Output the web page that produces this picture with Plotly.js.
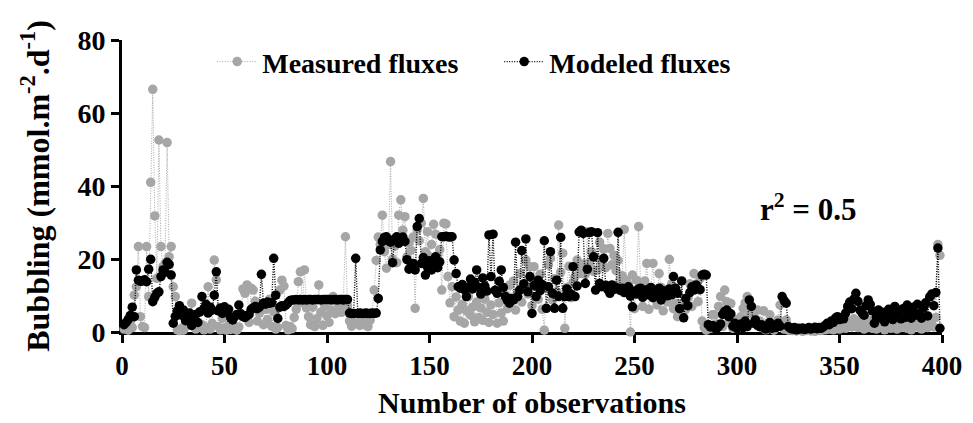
<!DOCTYPE html>
<html>
<head>
<meta charset="utf-8">
<script src="https://cdn.plot.ly/plotly-3.0.1.min.js"></script>
<style>
html,body{margin:0;padding:0;background:#fff;}
#chart{width:973px;height:423px;}
</style>
</head>
<body>
<div id="chart"></div>
<script>
// Observation numbers start at 1, one per observation
const firstObservation = 1;

const measuredFluxes = [
0.8, 1.5, 0.5, 2.8, 1.2, 10.1, 12.4, 23.4, 4.2, 1.5,
1.2, 23.4, 9.7, 41.0, 66.5, 31.8, 14.7, 52.6, 23.4, 17.9,
18.8, 51.9, 20.6, 23.4, 12.4, 9.7, 0.6, 0.4, 1.0, 0.5,
2.5, 1.8, 4.0, 7.9, 3.2, 0.8, 1.5, 5.6, 2.0, 0.6,
1.2, 12.4, 0.8, 2.4, 19.7, 14.3, 1.5, 0.6, 3.8, 1.0,
0.5, 1.8, 0.7, 2.2, 1.0, 0.5, 1.4, 4.6, 11.8, 10.6,
12.9, 2.6, 12.0, 11.5, 8.4, 3.0, 5.2, 7.0, 2.0, 6.2,
3.4, 9.0, 1.6, 5.5, 0.8, 1.2, 11.5, 14.2, 12.6, 1.8,
0.6, 1.5, 0.9, 4.0, 6.2, 13.8, 16.5, 8.0, 17.0, 6.6,
4.2, 2.0, 6.8, 1.5, 3.6, 12.9, 5.4, 1.8, 7.0, 4.4,
2.6, 6.0, 9.7, 5.0, 8.2, 6.6, 5.4, 9.0, 26.1, 7.2,
3.0, 1.6, 4.8, 2.4, 5.0, 1.8, 3.6, 2.0, 4.4, 1.5,
3.2, 5.0, 11.5, 19.6, 26.0, 24.0, 32.0, 22.0, 17.5, 24.0,
46.7, 20.0, 23.5, 19.0, 32.0, 36.2, 27.9, 31.6, 20.6, 24.5,
22.4, 26.0, 6.5, 28.0, 25.0, 29.8, 36.6, 22.0, 27.5, 20.6,
24.0, 29.5, 26.8, 21.0, 22.6, 11.5, 29.8, 29.6, 15.2, 8.0,
12.4, 4.2, 9.6, 6.0, 3.0, 7.6, 2.4, 5.8, 9.7, 4.6,
6.8, 2.8, 8.2, 4.0, 6.6, 3.2, 9.0, 5.4, 2.6, 7.4,
4.8, 11.5, 2.4, 8.0, 5.2, 3.0, 10.2, 6.4, 12.8, 8.6,
14.0, 6.0, 10.8, 16.0, 8.2, 12.6, 19.7, 10.4, 17.9, 7.2,
17.9, 13.4, 9.0, 15.8, 6.2, 0.5, 12.0, 18.4, 20.2, 8.8,
14.6, 11.0, 29.3, 16.4, 21.6, 1.0, 12.2, 18.0, 9.4, 13.6,
15.2, 19.7, 17.2, 16.0, 18.6, 15.8, 27.5, 19.0, 22.0, 16.6,
20.4, 17.0, 24.6, 19.2, 22.8, 17.6, 27.0, 22.9, 18.4, 21.0,
16.8, 19.6, 14.2, 15.4, 28.1, 14.2, 13.0, 0.0, 15.6, 6.4,
14.2, 28.9, 12.6, 7.0, 14.0, 18.8, 6.2, 11.4, 18.8, 9.6,
7.4, 16.0, 12.2, 5.8, 10.6, 8.2, 19.9, 13.0, 6.4, 7.9,
4.2, 6.8, 5.6, 8.0, 6.2, 9.4, 13.2, 7.0, 16.0, 12.4,
8.3, 14.6, 3.0, 1.2, 0.5, 2.0, 1.0, 4.7, 4.7, 2.2,
7.0, 9.7, 1.5, 11.5, 8.3, 2.6, 7.8, 1.0, 3.4, 2.0,
1.4, 4.2, 6.5, 8.0, 9.7, 5.2, 7.0, 4.6, 2.4, 6.0,
3.0, 1.2, 5.8, 0.6, 2.4, 4.7, 1.0, 0.5, 2.0, 3.3,
7.4, 1.5, 0.8, 3.3, 0.5, 1.2, 0.4, 0.8, 0.3, 0.6,
0.5, 0.2, 0.8, 0.4, 1.0, 0.3, 0.6, 0.2, 0.5, 0.8,
0.4, 1.0, 0.6, 1.2, 0.8, 1.5, 0.6, 2.0, 1.2, 0.8,
1.6, 2.4, 1.0, 3.0, 2.2, 1.4, 3.6, 2.0, 1.2, 2.8,
1.8, 0.8, 2.4, 1.2, 3.2, 1.0, 2.0, 0.8, 3.0, 1.6,
2.2, 0.6, 1.4, 2.8, 1.0, 3.4, 1.6, 0.8, 2.6, 1.2,
2.0, 3.0, 1.0, 2.4, 0.6, 1.8, 3.2, 1.4, 2.2, 0.8,
1.6, 2.8, 1.2, 3.6, 2.0, 1.4, 4.0, 24.0, 21.0
];

const modeledFluxes = [
2.0, 2.6, 3.4, 4.5, 6.8, 4.2, 17.0, 14.2, 13.9, 14.0,
14.3, 13.8, 17.2, 19.9, 8.3, 9.5, 10.6, 11.0, 15.2, 17.0,
16.4, 19.1, 18.5, 15.6, 2.4, 4.3, 5.8, 7.2, 4.6, 6.0,
3.1, 4.0, 5.2, 1.8, 3.6, 4.8, 2.6, 5.5, 9.7, 6.4,
7.6, 5.2, 6.8, 6.0, 10.1, 16.5, 5.8, 6.6, 5.1, 6.9,
5.4, 6.2, 3.9, 3.3, 4.2, 4.8, 7.4, 5.0, 4.2, 4.0,
4.5, 4.8, 6.2, 6.6, 7.0, 6.4, 6.8, 15.8, 7.9, 7.6,
8.2, 7.9, 8.0, 20.2, 10.1, 3.7, 6.8, 7.2, 7.0, 7.4,
8.0, 8.6, 8.8, 8.8, 8.9, 8.8, 8.9, 8.8, 8.9, 8.8,
8.9, 8.9, 8.8, 8.9, 8.9, 8.9, 8.8, 8.9, 8.9, 8.9,
8.9, 8.8, 8.9, 8.9, 8.8, 8.9, 8.9, 8.8, 8.9, 8.9,
5.2, 5.1, 5.1, 20.2, 5.1, 5.2, 5.1, 5.1, 5.2, 5.1,
5.1, 5.2, 5.1, 5.2, 9.2, 22.5, 24.8, 25.9, 26.1, 25.0,
24.6, 19.0, 25.5, 26.1, 24.3, 25.2, 26.0, 24.8, 19.8, 17.2,
17.9, 18.8, 17.0, 28.9, 31.1, 18.8, 20.4, 15.6, 17.8, 19.5,
17.0, 18.2, 20.6, 17.6, 19.2, 26.1, 26.1, 26.2, 26.1, 26.0,
26.1, 19.7, 16.0, 12.4, 12.0, 13.0, 11.6, 9.7, 12.2, 14.5,
11.8, 13.6, 17.0, 12.2, 10.4, 14.8, 12.6, 11.2, 26.6, 15.2,
26.8, 11.4, 10.6, 13.9, 17.0, 12.2, 9.7, 8.6, 7.9, 9.2,
8.8, 24.6, 9.7, 11.5, 22.3, 13.2, 25.5, 11.0, 15.2, 5.1,
12.8, 9.7, 14.2, 11.3, 13.0, 25.0, 6.5, 12.4, 22.0, 10.6,
6.5, 14.2, 9.7, 25.9, 6.5, 9.7, 11.8, 9.7, 10.4, 17.9,
9.7, 12.6, 27.4, 27.9, 27.0, 13.3, 17.2, 27.2, 27.5, 20.6,
11.5, 27.2, 13.3, 12.4, 20.2, 12.8, 11.6, 10.6, 12.9, 11.7,
12.2, 27.3, 11.4, 12.0, 10.8, 11.5, 12.4, 9.8, 6.9, 11.2,
10.4, 11.8, 12.0, 9.5, 10.8, 11.6, 10.2, 12.2, 9.4, 11.0,
10.5, 12.0, 8.8, 11.3, 10.6, 9.9, 11.8, 10.2, 15.2, 12.0,
10.6, 6.4, 14.0, 3.9, 9.2, 7.2, 10.8, 12.4, 11.5, 12.9,
12.0, 11.6, 15.6, 15.8, 15.6, 2.0, 1.4, 1.8, 1.2, 0.9,
1.5, 2.2, 4.8, 5.6, 6.0, 4.2, 5.0, 1.6, 2.4, 1.0,
1.8, 2.2, 1.2, 3.0, 1.5, 8.8, 7.0, 2.4, 3.3, 1.8,
1.5, 2.0, 1.2, 0.8, 1.4, 2.6, 1.0, 1.8, 1.2, 2.4,
1.6, 9.7, 8.6, 7.9, 1.5, 1.0, 0.8, 1.2, 0.6, 1.0,
0.8, 1.1, 0.7, 0.9, 1.2, 0.8, 1.0, 1.3, 0.9, 1.2,
1.0, 1.4, 1.8, 2.4, 2.0, 3.0, 2.6, 3.8, 4.2, 3.4,
4.0, 3.6, 5.2, 7.0, 8.2, 6.4, 9.0, 10.6, 8.4, 6.0,
5.2, 4.6, 7.2, 8.8, 7.6, 5.8, 2.4, 4.0, 6.0, 3.8,
5.4, 2.8, 4.6, 6.2, 5.0, 3.4, 7.0, 4.2, 5.8, 3.6,
6.4, 4.0, 7.4, 5.2, 3.8, 6.8, 4.6, 7.6, 5.0, 3.8,
6.6, 8.0, 4.4, 9.6, 10.4, 7.2, 10.8, 23.0, 1.0
];

const seriesNames = ["Measured fluxes", "Modeled fluxes"];
const xTickValues = [0, 50, 100, 150, 200, 250, 300, 350, 400];
const yTickValues = [0, 20, 40, 60, 80];
const xTitle = "Number of observations";
const yTitle = "Bubbling (mmol.m<sup>-2</sup>.d<sup>-1</sup>)";
const statText = "r<sup>2</sup> = 0.5";

const FONT = "'Liberation Serif', 'Times New Roman', serif";
const GRAY = "#a6a6a6";

const traces = [
  {
    type: "scatter", mode: "lines+markers", name: seriesNames[0],
    x0: firstObservation, dx: 1, y: measuredFluxes,
    line: {color: GRAY, width: 1, dash: "1px,1.5px"},
    marker: {color: GRAY, size: 9.5},
    cliponaxis: false
  },
  {
    type: "scatter", mode: "lines+markers", name: seriesNames[1],
    x0: firstObservation, dx: 1, y: modeledFluxes,
    line: {color: "#000", width: 1.4, dash: "1px,1.5px"},
    marker: {color: "#000", size: 9.5},
    cliponaxis: false
  }
];

const layout = {
  width: 973, height: 423,
  margin: {l: 122, r: 31, t: 40, b: 91, pad: 0},
  paper_bgcolor: "#fff", plot_bgcolor: "#fff",
  font: {family: FONT, color: "#000"},
  showlegend: true,
  legend: {
    orientation: "h", x: 0.11, xanchor: "left", y: 0.925, yanchor: "middle",
    itemwidth: 40,
    entrywidth: 232, entrywidthmode: "pixels",
    bgcolor: "rgba(0,0,0,0)",
    font: {family: FONT, size: 28, weight: "bold", color: "#000"}
  },
  xaxis: {
    range: [0, 400], tickvals: xTickValues, ticktext: xTickValues.map(String),
    ticks: "outside", ticklen: 8, tickwidth: 3, tickcolor: "#000",
    showline: true, linewidth: 3, linecolor: "#000",
    showgrid: false, zeroline: false, layer: "below traces",
    tickfont: {family: FONT, size: 27, weight: "bold", color: "#000"},
    title: {text: xTitle, standoff: 12, font: {family: FONT, size: 30, weight: "bold", color: "#000"}}
  },
  yaxis: {
    range: [0, 80], tickvals: yTickValues, ticktext: yTickValues.map(String),
    ticks: "outside", ticklen: 8, tickwidth: 3, tickcolor: "#000",
    showline: true, linewidth: 3, linecolor: "#000",
    showgrid: false, zeroline: false, layer: "below traces",
    tickfont: {family: FONT, size: 28, weight: "bold", color: "#000"},
    title: {text: yTitle, standoff: 19, font: {family: FONT, size: 32, weight: "bold", color: "#000"}}
  },
  annotations: [{
    x: 310, y: 34, xref: "x", yref: "y", xanchor: "left", yanchor: "middle",
    text: statText, showarrow: false,
    font: {family: FONT, size: 31, weight: "bold", color: "#000"}
  }]
};

Plotly.newPlot("chart", traces, layout, {displayModeBar: false, staticPlot: true});
</script>
</body>
</html>
